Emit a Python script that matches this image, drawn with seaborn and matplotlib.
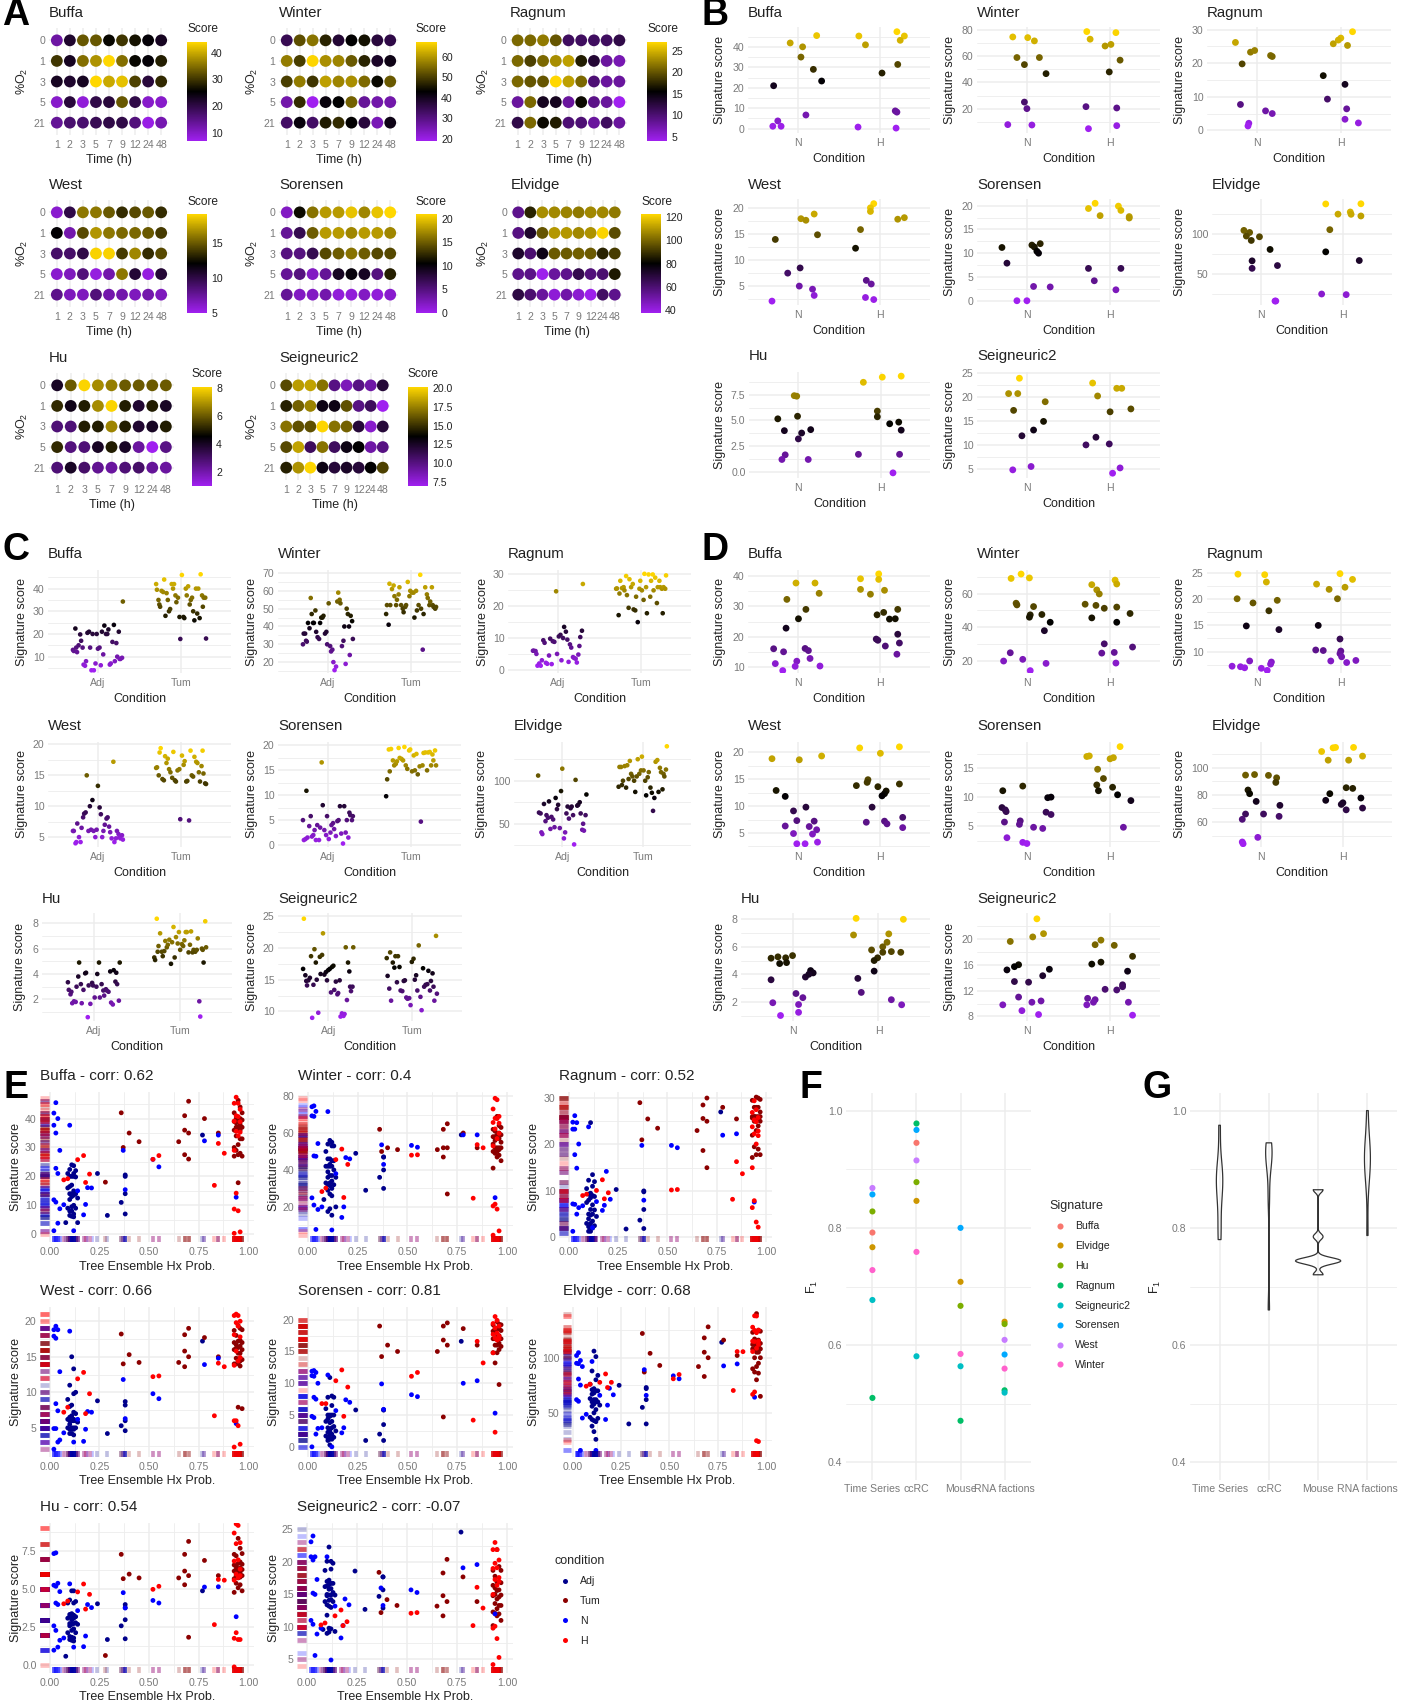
"""Hypoxia signature score panels A-G."""

import numpy as np
import pandas as pd
import matplotlib
matplotlib.use("Agg")
from matplotlib import pyplot as plt
from matplotlib.cm import ScalarMappable
from matplotlib.colors import LinearSegmentedColormap, Normalize
from matplotlib.lines import Line2D
import seaborn as sns

SIGS = ["Buffa", "Winter", "Ragnum", "West", "Sorensen", "Elvidge", "Hu", "Seigneuric2"]
TIMES = ["1", "2", "3", "5", "7", "9", "12", "24", "48"]
OXYGEN = ["0", "1", "3", "5", "21"]

# Panel A: rows are %O2, columns are time points
A_SCORES = {
    "Buffa": [[13, 22, 33, 33, 26, 30, 27, 25, 23], [30, 23, 35, 38, 44, 35, 26, 25, 28],
              [23, 22, 23, 44, 40, 42, 31, 21, 29], [10, 21, 9, 20, 21, 33, 20, 10, 10],
              [14, 17, 17, 19, 20, 20, 16, 8, 12]],
    "Winter": [[35, 52, 56, 47, 38, 43, 45, 37, 36], [57, 50, 67, 59, 58, 53, 47, 39, 41],
               [50, 57, 49, 61, 58, 59, 55, 44, 53], [26, 48, 19, 42, 43, 54, 28, 26, 26],
               [33, 42, 33, 46, 48, 43, 37, 25, 41]],
    "Ragnum": [[21, 21, 22, 20, 11, 11, 11, 11, 12], [21, 19, 21, 23, 24, 17, 13, 8, 7],
               [21, 20, 20, 27, 24, 21, 10, 8, 8], [8, 21, 14, 14, 8, 16, 9, 8, 4],
               [12, 21, 16, 17, 10, 10, 8, 11, 8]],
    "West": [[6, 10, 16, 16, 15, 13.5, 14.5, 15, 13.5], [12, 7, 14.5, 17, 16, 15.5, 15.5, 15, 14],
             [9, 9, 10, 19, 19, 14, 16.5, 13.5, 14.5], [6, 6.5, 8.5, 5.5, 7, 16, 10.5, 5.5, 10.5],
             [8, 6.5, 6.5, 8.5, 7, 7, 6.5, 7, 6.5]],
    "Sorensen": [[2, 11, 16, 18, 18, 20, 17, 20, 21], [4, 7, 15, 18, 18, 17, 18, 18, 17],
                 [5, 5, 7, 14, 15, 16, 15, 14, 14], [4, 5, 2, 4, 9, 10, 9, 5, 12],
                 [4, 2, 2, 3, 1, 1, 2, 1, 1.5]],
    "Elvidge": [[55, 87, 108, 107, 106, 104, 107, 107, 104], [57, 72, 97, 110, 110, 107, 109, 122, 95],
                [72, 60, 76, 98, 98, 99, 98, 87, 92], [55, 56, 38, 52, 55, 66, 58, 60, 85],
                [68, 60, 52, 42, 50, 43, 38, 62, 55]],
    "Hu": [[4, 6, 8, 6.8, 6.6, 6, 6, 6, 6], [5.2, 4.2, 5, 6.8, 8, 5, 3.8, 5, 4],
           [2.8, 2.8, 5, 5, 6.7, 5, 3.8, 4, 5], [5.2, 2.7, 2.8, 4, 5, 4, 2.2, 1, 2.6],
           [2.8, 4, 3, 2.4, 2.2, 2.8, 3, 2.3, 2.2]],
    "Seigneuric2": [[15.8, 18.3, 18.5, 17, 10, 8.5, 10, 9, 12], [14.5, 16.5, 17.5, 13, 13, 16, 10, 11, 7],
                    [17, 16, 16, 20, 17, 16.5, 12, 8, 12], [15.8, 18.5, 11, 17, 11, 13, 13.5, 9, 10],
                    [14.5, 18, 20, 13, 12, 12.5, 12, 13.5, 15.5]],
}
A_RANGE = {"Buffa": (7, 44), "Winter": (19, 67.3), "Ragnum": (4, 27), "West": (5, 19.2),
           "Sorensen": (0, 21), "Elvidge": (37, 123), "Hu": (1, 8.07), "Seigneuric2": (7, 20.1)}
A_TICKS = {"Buffa": [10, 20, 30, 40], "Winter": [20, 30, 40, 50, 60], "Ragnum": [5, 10, 15, 20, 25],
           "West": [5, 10, 15], "Sorensen": [0, 5, 10, 15, 20], "Elvidge": [40, 60, 80, 100, 120],
           "Hu": [2, 4, 6, 8], "Seigneuric2": [7.5, 10, 12.5, 15, 17.5, 20]}

# Panel B: normoxia / hypoxia, horizontal offset from category and score
B_N_X = {
    "Buffa": [-.29, -.09, .06, .04, .23, .19, .29, -.30, -.24, -.2, .1],
    "Winter": [-.17, .01, .09, -.12, -.03, .15, .23, -.03, 0, -.23, .06],
    "Ragnum": [-.26, -.08, -.03, .16, .18, -.18, -.2, .1, .18, -.1, -.11],
    "West": [-.27, .04, .1, .2, .24, .03, -.12, .02, .18, .2, -.31],
    "Sorensen": [-.3, -.24, .06, .16, .09, .12, .14, .08, .28, -.12, 0],
    "Elvidge": [-.21, -.14, -.18, -.12, -.02, .11, -.11, -.11, .2, .17, .18],
    "Hu": [-.25, -.17, -.01, -.05, -.02, .04, .15, 0, -.16, -.2, .12],
    "Seigneuric2": [-.09, -.22, -.11, -.16, .22, .2, .08, -.06, -.17, .05],
}
B_N_Y = {
    "Buffa": [21, 41.9, 40, 35, 45.5, 29, 23.3, 1.2, 3.8, 1.2, 6.7],
    "Winter": [74.7, 74.2, 71.7, 59, 53.6, 59, 46.7, 25, 20, 7.8, 7.5],
    "Ragnum": [26.2, 23.3, 23.8, 22.3, 22, 19.8, 7.7, 5.8, 5, 2.1, 1.3],
    "West": [13.9, 17.9, 17.6, 18.8, 14.8, 8.4, 7.4, 4.9, 4.3, 3.1, 2],
    "Sorensen": [11.2, 7.9, 11.7, 12, 11.3, 10.4, 10, 3, 2.9, 0, 0],
    "Elvidge": [104.6, 102, 97.5, 92, 96.6, 80.7, 66.4, 57, 60.5, 16, 16],
    "Hu": [5.15, 4, 5.4, 7.4, 7.35, 3.77, 4.1, 3.2, 1.65, 1.2, 1.2],
    "Seigneuric2": [24, 20.8, 20.8, 17.3, 19.1, 15, 13.2, 12, 4.9, 5.6],
}
B_H_X = {
    "Buffa": [-.26, -.18, .2, .29, .24, .21, .02, -.27, .19, .18, .2],
    "Winter": [-.28, -.24, .07, -.06, .01, .12, -.01, -.29, .08, -.26, .08],
    "Ragnum": [.14, 0, -.03, -.09, .08, -.21, .05, -.16, .07, .05, .21],
    "West": [-.08, -.12, -.12, -.24, -.3, .21, .29, -.17, -.11, -.18, -.08],
    "Sorensen": [-.18, -.26, -.12, .1, .13, .23, .23, -.26, .13, -.19, .07],
    "Elvidge": [-.21, .22, -.06, .09, .1, .22, -.16, -.21, .2, -.26, .04],
    "Hu": [-.21, .02, .25, -.04, -.04, .11, .22, .25, -.27, .23, .15],
    "Seigneuric2": [-.21, .08, .14, -.15, .25, 0, -.17, -.01, -.29, .12, .03],
}
B_H_Y = {
    "Buffa": [45.3, 41, 47.4, 45.3, 43.2, 31.4, 27.2, .8, .3, 8.7, 8.1],
    "Winter": [78.8, 73, 78, 67.8, 69, 57, 48, 21.5, 20.5, 4.7, 7],
    "Ragnum": [29.4, 27.5, 26.9, 25.8, 25.3, 16.3, 13.7, 9.3, 6.4, 3.3, 2.2],
    "West": [20.8, 20, 19.3, 15.8, 12.2, 17.8, 18.1, 6, 5.3, 2.7, 2.3],
    "Sorensen": [20.5, 19.4, 17.9, 19.9, 19, 17.7, 17.4, 6.8, 6.8, 4.2, 2.3],
    "Elvidge": [137.8, 138, 125, 127.7, 124.8, 122.7, 105.5, 77.7, 66.8, 24.8, 24],
    "Hu": [8.7, 9.2, 9.3, 5.9, 5.35, 4.67, 4.83, 4.05, 1.7, 1.7, -.1],
    "Seigneuric2": [23, 21.9, 21.9, 20.3, 17.6, 17, 11.7, 10.3, 10.1, 5.3, 4.2],
}

# Panel C: adjacent / tumour scores read left to right across each group
C_JITTER = [-.30, -.29, -.27, -.26, -.25, -.23, -.21, -.20, -.18, -.17, -.15, -.14, -.12, -.10,
            -.09, -.07, -.06, -.04, -.02, -.01, .01, .03, .04, .06, .07, .09, .11, .12, .14,
            .15, .17, .19, .20, .22, .23, .25, .26, .27, .29, .30]
C_ADJ = {
    "Buffa": [13, 12.5, 22.4, 14, 12, 15, 19.8, 17, 14, 6.5, 6, 8, 20.5, 21, 14, 4, 20, 4, 7, 20, 13.5,
              14, 6.2, 21, 11, 23.7, 20, 20, 22, 6.5, 7, 16.5, 24, 8, 16, 10, 21, 9, 9, 9.5, 34.3],
    "Winter": [30, 36, 36, 32, 31.5, 42, 39, 56, 47, 42, 42, 49, 37, 34, 33, 42, 45, 45, 46, 36, 37, 30,
               53, 29, 26, 27, 20, 15.5, 17.5, 54, 59, 55, 53, 29, 32, 40, 19, 50, 47, 40, 24, 46, 43, 33],
    "Ragnum": [6, 6, 5.9, 5, 1.3, 2, 1.3, 3, 9.3, 8.5, 2.2, 1.9, 4.5, 9.8, 1.8, 9, 8.8, 24.7, 5, 10.5, 11,
               3, 10, 13.5, 12, 9.5, 2.5, 8, 7, 4, 3.7, 3.5, 2.3, 4.8, 7.5, 10.3, 12.3, 27],
    "West": [6, 6, 4, 4.2, 7.2, 5, 4.2, 6.5, 8.2, 8.8, 9, 15, 6, 10, 6.2, 11, 6, 5, 6.2, 13.3, 9.8, 8.7, 5,
             6, 7, 8, 8.2, 6.7, 5.8, 4.8, 17.2, 4.2, 4.8, 6, 5.5, 5, 4.8, 5.3, 4.6],
    "Sorensen": [5, 1, 1.2, 10.9, 1.5, 3.8, 5.8, 1.7, 2, 3, 1, 4, 1, 3.5, 16.6, 8, 3, 2, 5.8, 1.2, 2.5, 4,
                 4.4, 3.2, 1.8, 4.8, 5, 7.8, 2.3, .3, 7.8, 2.5, 5, 1.5, 6.5, 6, 5, 5.8],
    "Elvidge": [106, 63, 62, 40, 38, 73, 53, 60, 57, 76, 44, 58, 55, 46, 80, 67, 72, 45, 88, 114, 33, 40,
                62, 70, 56, 68, 70, 60, 26, 101, 71, 72, 75, 62, 43, 50, 42, 60, 84],
    "Hu": [3.35, 2.75, 2.4, 2.6, 1.7, 1.85, 1.8, 3, 3.8, 4.9, 3.2, 1.7, 2.75, 4.05, 4.1, .6, 3.1, 1.65, 3.3,
           3.1, 2.15, 3, 4, 4.9, 2.15, 3.2, 2.7, 2.3, 2.8, 2.7, 2.6, 4.2, 1.75, 1.6, 4.3, 3.4, 4.1, 3.2, 1.9, 4.9],
    "Seigneuric2": [16.7, 24.6, 15.7, 14.8, 14.1, 14.9, 15.3, 18.7, 9, 14.2, 19.8, 17.7, 15, 9.8, 18.6, 15.9,
                    18.9, 22.3, 15.8, 16.2, 14.9, 16.5, 16.7, 13, 17, 17.2, 13.4, 14.7, 12.7, 12.9, 14.9,
                    9.2, 9.7, 9.3, 9.6, 20.1, 11.8, 17.7, 16.3, 13.9, 13.2, 13.9, 20.1],
}
C_TUM = {
    "Buffa": [42, 39.5, 35, 33, 32, 39, 38.5, 44, 28, 38, 35, 30, 31, 42, 40, 42, 37, 34, 36, 27.5, 17.8, 46,
              27.5, 27, 40, 37, 41, 33, 35, 36, 30, 26, 40, 29, 40, 27, 46.3, 37, 32, 36, 36, 18],
    "Winter": [47, 52, 41, 64, 52, 61, 63, 57, 52, 55, 58, 62, 52, 50, 48, 51, 52, 65, 57, 60, 59, 59, 45, 60,
               49, 52, 69, 50, 27, 47, 62, 58, 56, 52, 54, 62, 52, 51, 50, 51],
    "Ragnum": [25.5, 25.6, 17.2, 24, 28, 25.7, 26, 25, 29.5, 23.5, 19.5, 28.5, 26, 27, 19, 18.7, 23, 15, 25.5, 28,
               25, 22, 30.2, 26, 17.8, 30, 23, 28, 30, 25, 29, 21, 26, 28, 26, 25.5, 17.8, 26, 25.5, 29.7],
    "West": [16.2, 16.3, 15, 18.7, 19.4, 14.4, 14.2, 18.1, 17, 17.7, 16, 15.5, 14.6, 18.8, 14.2, 14, 15.8, 16,
             7.9, 18.2, 16.7, 17.3, 14, 14.1, 7.7, 19, 15, 14.8, 18, 17.2, 17, 15.5, 14, 16.5, 19, 15.3, 13.7, 13.6],
    "Sorensen": [9.8, 13.2, 19.2, 14.8, 19.3, 17, 16, 16.3, 16.8, 19.5, 17.5, 17.3, 17, 19.7, 16, 15.3, 19, 19.2,
                 14.8, 18, 15, 18.3, 14.2, 15.8, 4.7, 16, 18.5, 18.6, 15, 18.6, 18.7, 16, 18.2, 17, 19, 16],
    "Elvidge": [93, 116, 116, 95, 100, 117, 92, 118, 102, 123, 108, 105, 100, 87, 105, 125, 108, 112, 128, 112,
                100, 83, 104, 110, 92, 86, 65, 80, 122, 124, 87, 115, 110, 90, 108, 105, 113, 140],
    "Hu": [5.3, 5.1, 8.35, 5.75, 6.2, 7.2, 5.75, 5.4, 5.8, 6.6, 6.1, 6.3, 6.7, 4.8, 6.5, 7.7, 5.3, 6.9, 6.4, 7.3,
           5.9, 6.35, 6.2, 6.65, 7.3, 7.3, 5.7, 6.3, 7.35, 5.7, 5.9, 5.75, 5.9, 6.8, 1.85, .65, 6, 5.9, 4.9, 8.15, 6.1],
    "Seigneuric2": [18.4, 15.6, 13.6, 19.3, 11.7, 17.7, 16.9, 18.7, 14.6, 18.7, 17, 13.3, 13.2, 14.8, 14.9, 12.2,
                    12, 12.1, 11, 17.8, 18.3, 15, 15.7, 13.3, 20.4, 12.3, 10.2, 16.8, 13.9, 14.2, 14.3, 16.4,
                    13.3, 14.8, 16, 13.9, 11.7, 21.9, 12.8],
}

# Panel D: second normoxia / hypoxia cohort
D_N_X = {
    "Buffa": [-.02, .21, .26, -.13, .1, .01, -.14, -.29, -.17, .09, .13, .15, -.27, -.01, -.03, .27, -.18],
    "Winter": [-.07, -.19, .03, -.13, -.12, .08, .04, .03, .18, .28, .21, -.2, -.28, -.05, .23, .04],
    "Ragnum": [-.23, .09, .11, -.24, -.05, .24, .14, -.13, .26, -.09, -.3, -.2, -.15, .05, .12, .17, .16],
    "West": [-.31, .02, .29, -.26, -.15, .1, -.05, -.01, .2, -.15, .14, .23, -.05, .18, -.01, .09, .24],
    "Sorensen": [-.29, -.05, .25, .29, -.3, -.26, -.25, .23, .29, -.27, -.08, -.09, .08, .19, -.24, -.05, 0],
    "Elvidge": [-.19, -.08, .09, .19, .18, -.16, -.14, -.06, .23, -.19, .03, .22, -.23, -.04, -.23, -.22],
    "Hu": [-.25, -.17, -.08, 0, -.15, -.07, -.25, .15, .21, .24, .19, .04, .12, .07, -.23, .07, -.14],
    "Seigneuric2": [.12, .2, -.2, .07, -.1, -.15, -.24, .27, .19, -.15, .02, -.1, .06, .17, -.29, -.06, .14],
}
D_N_Y = {
    "Buffa": [37.7, 37.7, 34.3, 32.3, 29, 25.9, 22.8, 16, 15, 16.1, 15.4, 12.8, 11.1, 11.9, 10.2, 10.3, 8.8],
    "Winter": [71.6, 69, 69.3, 54.3, 53.3, 52.3, 47.4, 46, 47.6, 43, 38, 24.9, 20, 21, 18.6, 14.3],
    "Ragnum": [24.8, 24.7, 23.3, 20.1, 19.3, 19.8, 17.8, 14.9, 14.2, 8.2, 7.2, 7.1, 6.9, 6.8, 6.4, 8, 7.6],
    "West": [18.8, 18.6, 19.3, 12.9, 11.8, 9.8, 9.1, 7.3, 7.2, 6.3, 6.2, 5.6, 4.9, 4.8, 3, 3, 3.3],
    "Sorensen": [11.1, 11.9, 9.9, 10, 8.2, 7.8, 7.5, 7.4, 7, 5.7, 5.9, 5.3, 4.8, 4.6, 3, 2.2, 2],
    "Elvidge": [94.6, 95, 94.4, 92.6, 89.2, 83.6, 80.9, 75.2, 72.3, 65.9, 65.9, 64.2, 62, 48.7, 45.3, 44],
    "Hu": [5.17, 5.27, 5.2, 5.36, 4.78, 4.85, 3.6, 3.8, 4.27, 4.1, 4, 2.6, 2.3, 1.8, 1.93, 1.23, 1],
    "Seigneuric2": [23.1, 20.8, 19.6, 20.3, 16, 15.7, 15.2, 15.3, 14.3, 13.4, 13.3, 11, 10.2, 10.4, 9.8, 8.9, 8.3],
}
D_H_X = {
    "Buffa": [-.02, -.24, -.02, -.24, -.12, .05, .21, -.04, .04, .11, .18, .21, -.05, -.03, .06, .23, .2],
    "Winter": [.06, -.22, .08, -.16, -.13, -.3, -.17, -.07, .08, .24, -.22, .08, -.07, .27, -.1, .05, .07],
    "Ragnum": [-.01, .14, -.29, -.14, .05, -.04, -.27, -.01, -.3, -.21, 0, -.01, .01, -.12, .07, .18],
    "West": [-.25, .23, 0, -.15, -.16, -.29, -.03, .23, .07, .05, .02, -.1, -.17, .05, .08, .27, .27],
    "Sorensen": [.12, -.28, -.25, 0, .04, -.15, -.08, -.16, .03, -.14, .09, .25, .16],
    "Elvidge": [.13, -.12, -.09, -.26, .24, -.18, .07, .04, .12, -.16, .22, -.21, 0, -.02, .24, .04],
    "Hu": [-.26, .29, -.29, .12, .1, .05, -.08, .15, .26, .05, -.01, -.05, -.05, -.24, -.2, .15, .27],
    "Seigneuric2": [-.11, -.18, .05, .27, -.11, -.22, .21, .15, .15, -.06, .08, -.27, -.18, -.2, -.28, .22, .27],
}
D_H_Y = {
    "Buffa": [40.7, 39.1, 38.9, 35.6, 34, 35.3, 29, 27.2, 28, 25.8, 25.9, 20.8, 19.2, 18.8, 16.9, 17.9, 14.2],
    "Winter": [68, 65.3, 65.7, 62.2, 59.8, 53.7, 53, 51.3, 52, 48.2, 45.6, 43, 30.2, 28.3, 24.7, 25.1, 18.8],
    "Ragnum": [24.9, 23.8, 22.9, 21.9, 22.3, 20.1, 15, 12.4, 10.3, 10.2, 10.1, 9.6, 9, 8.2, 7.9, 8.3],
    "West": [20.8, 21, 19.8, 14.9, 14.4, 13.8, 13.6, 14.1, 12.8, 12.3, 11.9, 9.8, 7, 7.2, 6.7, 7.9, 6],
    "Sorensen": [18.7, 17, 17.1, 16.6, 16.8, 14.8, 13.2, 12.1, 11.7, 11.1, 10.4, 9.4, 4.8],
    "Elvidge": [115, 114.7, 115, 112, 108.6, 105.6, 105.6, 85.3, 84.8, 80.9, 77.7, 76, 74.2, 73, 70.3, 69],
    "Hu": [8.07, 8, 6.86, 6.94, 6.33, 6, 5.77, 5.65, 5.6, 5.6, 5.2, 5, 4.23, 3.7, 2.68, 2.15, 1.78],
    "Seigneuric2": [19.8, 19.1, 19, 17.3, 16.4, 16.1, 15, 12.9, 12.6, 12.2, 12.1, 10.8, 10.6, 10.2, 9.8, 10.2, 8.2],
}

# Panel E: tree ensemble probabilities per condition, listed from the highest to the
# lowest scoring sample. Scores come from panels B, C and D.
E_ADJ_X = [.77, .11, .12, .1, .13, .12, .09, .24, .38, .38, .11, .1, .12, .13, .11, .1, .09, .12, .11, .38, .13, .1,
           .12, .11, .14, .1, .36, .12, .11, .09, .13, .1, .11, .12, .38, .29, .1, .11, .12, .08, .14, .11, .1, .12]
E_TUM_X = [.95, .7, .96, .97, .93, .36, .68, .94, .78, .96, .95, .97, .93, .94, .96, .95, .94, .97, .93, .68, .96, .95,
           .4, .85, .7, .94, .97, .96, .45, .65, .95, .93, .37, .94, .96, .68, .95, .97, .93, .7, .28, .95, .71, .94]
E_N_X = [.03, .02, .04, .1, .02, .03, .85, .78, .05, .37, .52, .55, .03, .04, .19, .21, .38, .14, .94, .02, .03, .18,
         .07, .05, .17, .04, .12, .02, .2, .03]
E_H_X = [.94, .95, .93, .96, .94, .95, .93, .96, .94, .96, .95, .85, .93, .88, .17, .55, .52, .14, .2, .09, .07, .18,
         .83, .94, .93, .95, .96, .93]
E_TITLES = ["Buffa - corr: 0.62", "Winter - corr: 0.4", "Ragnum - corr: 0.52", "West - corr: 0.66",
            "Sorensen - corr: 0.81", "Elvidge - corr: 0.68", "Hu - corr: 0.54", "Seigneuric2 - corr: -0.07"]
CONDITIONS = ["Adj", "Tum", "N", "H"]

# Panel F and G: F1 per dataset, signature order as in the legend
F_DATASETS = ["Time Series", "ccRC", "Mouse", "RNA factions"]
F_SIGS = ["Buffa", "Elvidge", "Hu", "Ragnum", "Seigneuric2", "Sorensen", "West", "Winter"]
F_TIME = [.792, .767, .828, .510, .677, .857, .868, .728]
F_CCRC = [.945, .846, .878, .978, .581, .967, .915, .759]
F_MOUSE = [np.nan, .708, .667, .471, .564, .80, np.nan, .585]
F_RNA = [np.nan, .640, .636, .523, .519, .584, .609, .560]
G_TIME = [.78, .80, .85, .87, .885, .89, .90, .975]
G_CCRC = [.66, .85, .90, .915, .925, .935, .94, .945]
G_MOUSE = [.72, .74, .743, .744, .745, .746, .785, .865]
G_RNA = [.787, .88, .90, .915, .925, .93, .94, 1.0]

# y axis limits and major ticks per panel
B_LIMS = {"Buffa": (-2.1, 49.7), "Winter": (1.4, 82.3), "Ragnum": (-.8, 30.8), "West": (1.25, 21.7),
          "Sorensen": (-.9, 21.4), "Elvidge": (11, 144), "Hu": (-.6, 9.7), "Seigneuric2": (3.2, 25.3)}
B_TICKS = {"Buffa": [0, 10, 20, 30, 40], "Winter": [20, 40, 60, 80], "Ragnum": [0, 10, 20, 30],
           "West": [5, 10, 15, 20], "Sorensen": [0, 5, 10, 15, 20], "Elvidge": [50, 100],
           "Hu": [0, 2.5, 5, 7.5], "Seigneuric2": [5, 10, 15, 20, 25]}
C_LIMS = {"Buffa": (2.8, 48.2), "Winter": (13.9, 71.7), "Ragnum": (-1, 31.4), "West": (3.4, 20.4),
          "Sorensen": (-.4, 20.7), "Elvidge": (23, 145), "Hu": (.3, 8.8), "Seigneuric2": (8.5, 25.5)}
C_TICKS = {"Buffa": [10, 20, 30, 40], "Winter": [20, 30, 40, 50, 60, 70], "Ragnum": [0, 10, 20, 30],
           "West": [5, 10, 15, 20], "Sorensen": [0, 5, 10, 15, 20], "Elvidge": [50, 100],
           "Hu": [2, 4, 6, 8], "Seigneuric2": [10, 15, 20, 25]}
D_LIMS = {"Buffa": (8, 42), "Winter": (12.9, 74), "Ragnum": (5.9, 25.6), "West": (2.4, 21.9),
          "Sorensen": (1.4, 19.5), "Elvidge": (41.6, 119), "Hu": (.6, 8.46), "Seigneuric2": (7.3, 24)}
D_TICKS = {"Buffa": [10, 20, 30, 40], "Winter": [20, 40, 60], "Ragnum": [10, 15, 20, 25],
           "West": [5, 10, 15, 20], "Sorensen": [5, 10, 15], "Elvidge": [60, 80, 100],
           "Hu": [2, 4, 6, 8], "Seigneuric2": [8, 12, 16, 20]}
E_LIMS = {"Buffa": (-2.7, 49.2), "Winter": (1, 82.2), "Ragnum": (-1, 31.3), "West": (.9, 22),
          "Sorensen": (-1.6, 22), "Elvidge": (10, 146), "Hu": (-.5, 9.36), "Seigneuric2": (2.9, 26)}

# pixel boxes: left, right, top, bottom, y label centre
A_BOX = {"Buffa": (49, 169, 28, 135, 20), "Winter": (279, 398, 28, 135, 250), "Ragnum": (510, 627, 28, 135, 481),
         "West": (49, 169, 200, 307, 20), "Sorensen": (279, 398, 200, 307, 250), "Elvidge": (511, 622, 200, 307, 481),
         "Hu": (49, 174, 373, 480, 20), "Seigneuric2": (279, 390, 373, 480, 250)}
A_BAR = {"Buffa": (187, 207, 42, 141, 29), "Winter": (416, 437, 42, 141, 29), "Ragnum": (647, 667, 42, 141, 29),
         "West": (187, 207, 214, 313, 202), "Sorensen": (416, 437, 214, 313, 202), "Elvidge": (641, 661, 214, 313, 202),
         "Hu": (192, 212, 387, 486, 374), "Seigneuric2": (408, 428, 387, 486, 374)}
B_BOX = {"Buffa": (748, 930, 27, 133, 717), "Winter": (977, 1160, 27, 133, 948), "Ragnum": (1207, 1391, 27, 133, 1178),
         "West": (748, 930, 199, 305, 717), "Sorensen": (977, 1160, 199, 305, 948), "Elvidge": (1212, 1392, 199, 305, 1178),
         "Hu": (749, 930, 372, 478, 717), "Seigneuric2": (977, 1160, 372, 478, 947)}
C_BOX = {"Buffa": (48, 231, 570, 673, 19), "Winter": (278, 461, 570, 673, 249), "Ragnum": (508, 691, 570, 673, 480),
         "West": (48, 231, 742, 847, 19), "Sorensen": (278, 461, 742, 847, 249), "Elvidge": (514, 691, 742, 847, 480),
         "Hu": (42, 232, 913, 1021, 18), "Seigneuric2": (278, 462, 913, 1021, 249)}
D_BOX = {"Buffa": (748, 930, 570, 673, 717), "Winter": (977, 1160, 570, 673, 948), "Ragnum": (1207, 1391, 570, 673, 1178),
         "West": (748, 930, 742, 847, 717), "Sorensen": (977, 1160, 742, 847, 948), "Elvidge": (1212, 1392, 742, 847, 1178),
         "Hu": (741, 930, 913, 1021, 717), "Seigneuric2": (977, 1160, 913, 1021, 948)}
E_BOX = {"Buffa": (40, 254, 1092, 1242, 13), "Winter": (298, 513, 1092, 1242, 272), "Ragnum": (559, 772, 1092, 1242, 532),
         "West": (40, 254, 1307, 1457, 13), "Sorensen": (298, 513, 1307, 1457, 272), "Elvidge": (563, 772, 1307, 1457, 531),
         "Hu": (40, 254, 1523, 1673, 13), "Seigneuric2": (297, 513, 1523, 1673, 272)}
TITLE_Y = {27: 13, 199: 185, 372: 356, 28: 13, 200: 185, 373: 358, 570: 554, 742: 726, 913: 899,
           1092: 1076, 1307: 1291, 1523: 1507}

W, H = 1416, 1703
GRID = "#EDEDED"
TICK = "#7A7A7A"
TEXT = "#222222"
SCORE_CMAP = LinearSegmentedColormap.from_list("score", ["#A020F0", "#000000", "#FFD700"])
COND_COLORS = {"Adj": "#00008B", "Tum": "#8B0000", "N": "#0000FF", "H": "#FF0000"}
SIG_COLORS = ["#F8766D", "#CD9600", "#7CAE00", "#00BE67", "#00BFC4", "#00A9FF", "#C77CFF", "#FF61CC"]

sns.set_theme(style="white")
plt.rcParams["font.family"] = ["Liberation Sans", "DejaVu Sans"]
plt.rcParams["mathtext.default"] = "regular"


def px_axes(fig, box):
    """Creates axes from a pixel box measured from the top left corner."""
    left, right, top, bottom = box[:4]
    return fig.add_axes([left / W, 1 - bottom / H, (right - left) / W, (bottom - top) / H])


def minor_between(major, lims):
    """Minor gridlines half way between major ticks, within the limits."""
    step = major[1] - major[0]
    mids = np.arange(major[0] - step / 2, major[-1] + step, step)
    return [m for m in mids if lims[0] <= m <= lims[1]]


def style_panel(fig, ax, box, title, xlabel, ylabel, title_size=10.8, x_off=25.7):
    """Minimal theme, title and axis labels at fixed pixel distances."""
    left, right, top, bottom, label_x = box
    for spine in ax.spines.values():
        spine.set_visible(False)
    ax.set_axisbelow(True)
    ax.grid(True, which="major", color=GRID, lw=1.1)
    ax.grid(True, which="minor", color=GRID, lw=0.6)
    ax.tick_params(axis="both", which="both", length=0, labelsize=7.6, labelcolor=TICK)
    ax.tick_params(axis="x", pad=3.5)
    ax.tick_params(axis="y", pad=2.5)
    ax.set_xlabel(xlabel, fontsize=9, color=TEXT, va="center")
    ax.set_ylabel(ylabel, fontsize=9, color=TEXT, va="center")
    ax.xaxis.set_label_coords(0.5, -x_off / (bottom - top))
    ax.yaxis.set_label_coords((label_x + 2.5 - left) / (right - left), 0.5)
    fig.text(left / W, 1 - TITLE_Y[top] / H, title, fontsize=title_size, color=TEXT, va="center", ha="left")


def draw_heat_dots(fig, name):
    """Panel A dot matrix plus its colour bar."""
    box = A_BOX[name]
    ax = px_axes(fig, box)
    scores = np.array(A_SCORES[name])
    rows, cols = np.indices(scores.shape)
    sns.scatterplot(x=cols.ravel(), y=rows.ravel(), hue=scores.ravel(), palette=SCORE_CMAP,
                    hue_norm=A_RANGE[name], s=72, linewidth=0, legend=False, ax=ax)
    ax.set_xlim(-0.6, 8.6)
    ax.set_ylim(4.6, -0.6)
    ax.set_xticks(range(len(TIMES)), TIMES)
    ax.set_yticks(range(len(OXYGEN)), OXYGEN)
    style_panel(fig, ax, box, name, "Time (h)", "%O$_2$", x_off=25)

    left, right, top, bottom, title_y = A_BAR[name]
    cax = px_axes(fig, (left, right, top, bottom))
    bar = fig.colorbar(ScalarMappable(Normalize(*A_RANGE[name]), SCORE_CMAP), cax=cax)
    bar.outline.set_visible(False)
    bar.set_ticks(A_TICKS[name])
    cax.tick_params(length=0, labelsize=7.6, labelcolor=TEXT, pad=3)
    fig.text(left / W, 1 - title_y / H, "Score", fontsize=8.6, color=TEXT, va="center")


def draw_groups(fig, name, box, groups, labels, lims, ticks, size):
    """Two jittered groups coloured by score, panels B, C and D."""
    ax = px_axes(fig, box)
    frames = [pd.DataFrame({"x": pos + np.asarray(off), "y": vals})
              for pos, (off, vals) in enumerate(groups)]
    df = pd.concat(frames)
    sns.scatterplot(data=df, x="x", y="y", hue="y", palette=SCORE_CMAP,
                    hue_norm=(df["y"].min(), df["y"].max()), s=size, linewidth=0, legend=False, ax=ax)
    ax.set_xlim(-0.6, 1.6)
    ax.set_ylim(*lims)
    ax.set_xticks([0, 1], labels)
    ax.set_yticks(ticks)
    ax.set_yticks(minor_between(ticks, lims), minor=True)
    style_panel(fig, ax, box, name, "Condition", "Signature score")


def spread_jitter(n):
    return np.interp(np.linspace(0, 1, n), np.linspace(0, 1, len(C_JITTER)), C_JITTER)


def draw_probability(fig, name, title):
    """Panel E scatter of score against probability, with both rugs."""
    box = E_BOX[name]
    ax = px_axes(fig, box)
    n_y = B_N_Y[name] + D_N_Y[name]
    h_y = B_H_Y[name] + D_H_Y[name]
    parts = [("Adj", E_ADJ_X, C_ADJ[name]), ("Tum", E_TUM_X, C_TUM[name]),
             ("N", E_N_X, n_y), ("H", E_H_X, h_y)]
    frames = [pd.DataFrame({"prob": np.resize(xs, len(ys)), "score": sorted(ys, reverse=True), "condition": cond})
              for cond, xs, ys in parts]
    df = pd.concat(frames, ignore_index=True)
    df["rounded"] = df["score"].round()
    sns.rugplot(data=df, x="prob", hue="condition", hue_order=CONDITIONS, palette=COND_COLORS, height=0.04,
                linewidth=2.6, alpha=0.25, legend=False, expand_margins=False, ax=ax)
    sns.rugplot(data=df, y="rounded", hue="condition", hue_order=CONDITIONS, palette=COND_COLORS, height=0.04,
                linewidth=3.4, alpha=0.25, legend=False, expand_margins=False, ax=ax)
    sns.scatterplot(data=df, x="prob", y="score", hue="condition", hue_order=["N", "H", "Adj", "Tum"],
                    palette=COND_COLORS, s=12, linewidth=0, legend=False, ax=ax)
    ax.set_xlim(-0.05, 1.03)
    ax.set_ylim(*E_LIMS[name])
    ticks = B_TICKS[name]
    ax.set_xticks([0, 0.25, 0.5, 0.75, 1], ["0.00", "0.25", "0.50", "0.75", "1.00"])
    ax.set_xticks([0.125, 0.375, 0.625, 0.875], minor=True)
    ax.set_yticks(ticks)
    ax.set_yticks(minor_between(ticks, E_LIMS[name]), minor=True)
    style_panel(fig, ax, box, title, "Tree Ensemble Hx Prob.", "Signature score", title_size=11, x_off=24.5)


def style_f1(ax, box):
    """Shared axis styling for panels F and G."""
    for spine in ax.spines.values():
        spine.set_visible(False)
    ax.set_axisbelow(True)
    ax.grid(True, which="major", color=GRID, lw=1.1)
    ax.grid(True, which="minor", axis="y", color=GRID, lw=0.6)
    ax.set_xlim(-0.6, 3.6)
    ax.set_ylim(0.37, 1.03)
    ax.set_yticks([0.4, 0.6, 0.8, 1.0])
    ax.set_yticks([0.5, 0.7, 0.9], minor=True)
    ax.tick_params(axis="both", which="both", length=0, labelsize=7.6, labelcolor=TICK)
    ax.tick_params(axis="x", pad=3)
    ax.tick_params(axis="y", pad=2.5)
    ax.set_xlabel("")
    ax.set_ylabel("F$_1$", fontsize=9, color=TEXT, va="center")
    ax.yaxis.set_label_coords((box[4] - box[0]) / (box[1] - box[0]), 0.5)


def draw_f_g(fig):
    """F1 dots per dataset and F1 violins."""
    box_f = (846, 1031, 1093, 1480, 812)
    ax = px_axes(fig, box_f)
    values = [F_TIME, F_CCRC, F_MOUSE, F_RNA]
    df = pd.DataFrame({"dataset": np.repeat(F_DATASETS, len(F_SIGS)),
                       "Signature": F_SIGS * len(F_DATASETS),
                       "f1": np.concatenate(values)})
    sns.stripplot(data=df, x="dataset", y="f1", hue="Signature", hue_order=F_SIGS, order=F_DATASETS,
                  palette=SIG_COLORS, jitter=False, size=4.4, linewidth=0, legend=False, ax=ax)
    style_f1(ax, box_f)
    handles = [Line2D([], [], ls="", marker="o", ms=4.4, mew=0, color=c) for c in SIG_COLORS]
    fig.legend(handles, F_SIGS, title="Signature", loc="upper left", bbox_to_anchor=(1040 / W, 1 - 1190 / H),
               frameon=False, fontsize=7.6, title_fontsize=9, alignment="left", labelspacing=0.93,
               handletextpad=0.4, labelcolor=TEXT)

    box_g = (1190, 1397, 1093, 1480, 1155)
    ax = px_axes(fig, box_g)
    # bandwidth and width differ per dataset, as the violins are area scaled
    violins = [(G_TIME, 0.5, 0.13), (G_CCRC, 0.25, 0.13), (G_MOUSE, 0.11, 0.92), (G_RNA, 0.55, 0.12)]
    for name, (vals, bw, width) in zip(F_DATASETS, violins):
        sns.violinplot(x=[name] * len(vals), y=vals, order=F_DATASETS, fill=False, cut=0, inner=None,
                       density_norm="width", bw_method=bw, width=width, color="#333333", linewidth=0.9, ax=ax)
    style_f1(ax, box_g)


def main():
    """Builds all panels and saves the figure."""
    fig = plt.figure(figsize=(W / 100, H / 100), dpi=100)
    for name in SIGS:
        draw_heat_dots(fig, name)
        draw_groups(fig, name, B_BOX[name], [(B_N_X[name], B_N_Y[name]), (B_H_X[name], B_H_Y[name])],
                    ["N", "H"], B_LIMS[name], B_TICKS[name], 24)
        draw_groups(fig, name, C_BOX[name],
                    [(spread_jitter(len(C_ADJ[name])), C_ADJ[name]), (spread_jitter(len(C_TUM[name])), C_TUM[name])],
                    ["Adj", "Tum"], C_LIMS[name], C_TICKS[name], 11)
        draw_groups(fig, name, D_BOX[name], [(D_N_X[name], D_N_Y[name]), (D_H_X[name], D_H_Y[name])],
                    ["N", "H"], D_LIMS[name], D_TICKS[name], 24)
    for name, title in zip(SIGS, E_TITLES):
        draw_probability(fig, name, title)
    draw_f_g(fig)

    handles = [Line2D([], [], ls="", marker="o", ms=3.6, mew=0, color=COND_COLORS[c]) for c in CONDITIONS]
    fig.legend(handles, CONDITIONS, title="condition", loc="upper left", bbox_to_anchor=(545 / W, 1 - 1545 / H),
               frameon=False, fontsize=7.6, title_fontsize=9, alignment="left", labelspacing=0.93,
               handletextpad=0.4, labelcolor=TEXT)

    letters = {"A": (2, 15), "B": (702, 15), "C": (2, 550), "D": (702, 550), "E": (4, 1088), "F": (799, 1088),
               "G": (1142, 1088)}
    for letter, (x, y) in letters.items():
        fig.text(x / W, 1 - y / H, letter, fontsize=27, fontweight="bold", color="black", va="center", ha="left")
    fig.savefig("out.png", dpi=100)


if __name__ == "__main__":
    main()
